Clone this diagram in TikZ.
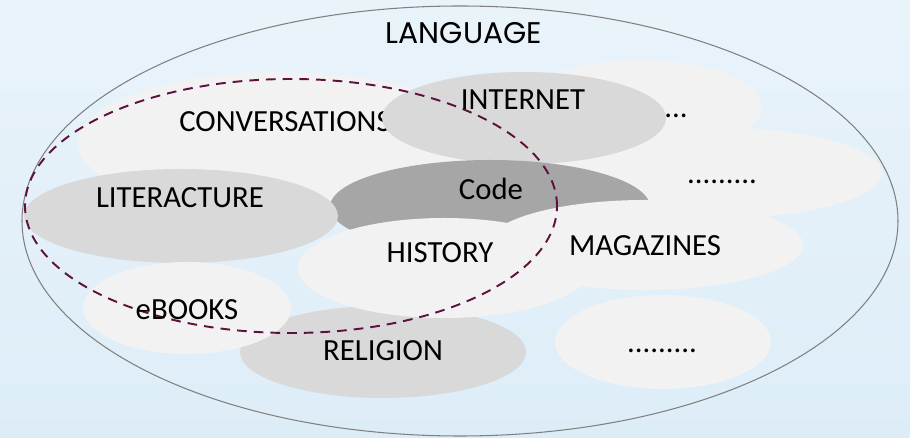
\documentclass[tikz,border=0pt]{standalone}
\usepackage{fontspec}
\setmainfont{Carlito}
\newfontfamily\langfont{Poppins}
\usepackage{tikz}
\definecolor{bgtop}{HTML}{E9F3FA}
\definecolor{bgbot}{HTML}{DDEDF8}
\definecolor{litegray}{HTML}{F2F2F2}
\definecolor{midgray}{HTML}{D9D9D9}
\definecolor{codegray}{HTML}{A6A6A6}
\definecolor{rimgray}{HTML}{808080}
\definecolor{wine}{RGB}{94,16,62}
\begin{document}
\begin{tikzpicture}[x=0.02cm,y=0.02cm]
\tikzstyle{every node}+=[inner sep=0pt]
\tikzstyle{lbl}=[anchor=base,font=\fontsize{17.5}{21}\selectfont]
\shade [top color=bgtop,bottom color=bgbot] (0,0) rectangle (910,-438);
\useasboundingbox (0,0) rectangle (910,-438);
\draw [rimgray,line width=0.6pt] (460,-221) ellipse (438 and 215);
\fill [litegray] (282,-143) ellipse (204 and 71);
\fill [litegray] (640,-107) ellipse (122 and 47);
\fill [litegray] (710,-173) ellipse (172 and 46);
\draw (285,-132) node [lbl] (conv) {CONVERSATIONS};
\fill [midgray] (524,-118) ellipse (142 and 46);
\fill [codegray] (490,-207) ellipse (160 and 47);
\fill [midgray] (181,-216) ellipse (157 and 47);
\fill [litegray] (645,-245) ellipse (158 and 45);
\fill [midgray] (383,-352) ellipse (143 and 46);
\fill [litegray] (444,-268) ellipse (146 and 50);
\fill [litegray] (187,-308) ellipse (104 and 46);
\fill [litegray] (663,-342) ellipse (108 and 47);
\draw [wine,line width=1.1pt,dash pattern=on 5.5pt off 4pt] (291,-206) ellipse (266 and 127);
\draw (464,-44) node [lbl,font=\langfont\fontsize{17}{20}\selectfont] (lang) {LANGUAGE};
\draw (523,-110) node [lbl] (net) {INTERNET};
\draw (676,-118) node [lbl] (more1) {...};
\draw (722,-184) node [lbl] (more2) {.........};
\draw (491,-200) node [lbl] (code) {Code};
\draw (180,-208) node [lbl] (lit) {LITERACTURE};
\draw (440,-263) node [lbl] (hist) {HISTORY};
\draw (645,-256) node [lbl] (mag) {MAGAZINES};
\draw (187,-320) node [lbl] (ebook) {eBOOKS};
\draw (383,-361) node [lbl] (rel) {RELIGION};
\draw (662,-353) node [lbl] (more3) {.........};
\end{tikzpicture}
\end{document}
